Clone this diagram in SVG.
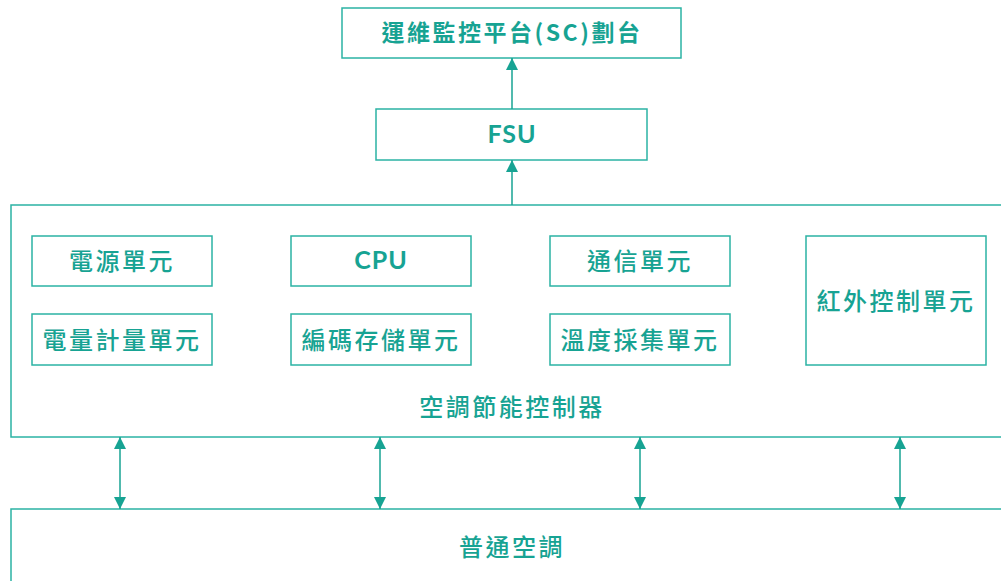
<svg xmlns="http://www.w3.org/2000/svg" width="1001" height="581" viewBox="0 0 1001 581">
<style>
.box{fill:#fff;stroke:#2bb3a4;stroke-width:1.5}
.t{font-family:"Noto Sans CJK TC","Noto Sans",sans-serif;font-size:24px;fill:#17a393;text-anchor:middle;dominant-baseline:central;letter-spacing:2.5px;font-weight:500}
.b{font-weight:700}
.lat{letter-spacing:1px;font-family:"Lato","Noto Sans",sans-serif;font-size:25px}
.ln{stroke:#17a393;stroke-width:1.5;fill:none}
</style>
<defs>
<marker id="ah" viewBox="0 0 10 10" refX="10" refY="5" markerWidth="12" markerHeight="12" markerUnits="userSpaceOnUse" orient="auto-start-reverse">
<path d="M0,0 L10,5 L0,10 z" fill="#17a393"/>
</marker>
</defs>
<rect width="1001" height="581" fill="#fff"/>
<g id="sc"><rect class="box" x="342" y="8" width="339" height="50"/><text class="t b" x="512" y="31" style="font-size:23px;letter-spacing:2.5px">運維監控平台(SC)劃台</text></g>
<g id="fsu"><rect class="box" x="376" y="109" width="271" height="51"/><text class="t b lat" x="512" y="133">FSU</text></g>
<g id="ctrl"><rect class="box" x="11" y="205" width="1000" height="232"/><text class="t" x="512" y="405">空調節能控制器</text></g>
<g id="power"><rect class="box" x="32" y="236" width="180" height="50"/><text class="t" x="122" y="259">電源單元</text></g>
<g id="meter"><rect class="box" x="32" y="314" width="180" height="51"/><text class="t" x="122" y="338">電量計量單元</text></g>
<g id="cpu"><rect class="box" x="291" y="236" width="180" height="50"/><text class="t b lat" x="381" y="259">CPU</text></g>
<g id="store"><rect class="box" x="291" y="314" width="180" height="51"/><text class="t" x="381" y="338">編碼存儲單元</text></g>
<g id="comm"><rect class="box" x="550" y="236" width="180" height="50"/><text class="t" x="640" y="259">通信單元</text></g>
<g id="temp"><rect class="box" x="550" y="314" width="180" height="51"/><text class="t" x="640" y="338">溫度採集單元</text></g>
<g id="ir"><rect class="box" x="806" y="236" width="180" height="129"/><text class="t" x="896" y="299">紅外控制單元</text></g>
<g id="ac"><rect class="box" x="11" y="509" width="1000" height="80"/><text class="t" x="512" y="545">普通空調</text></g>
<g id="connectors">
<line class="ln" x1="512" y1="109" x2="512" y2="58" marker-end="url(#ah)"/>
<line class="ln" x1="512" y1="205" x2="512" y2="160" marker-end="url(#ah)"/>
<line class="ln" x1="120" y1="437" x2="120" y2="509" marker-start="url(#ah)" marker-end="url(#ah)"/>
<line class="ln" x1="380" y1="437" x2="380" y2="509" marker-start="url(#ah)" marker-end="url(#ah)"/>
<line class="ln" x1="640" y1="437" x2="640" y2="509" marker-start="url(#ah)" marker-end="url(#ah)"/>
<line class="ln" x1="900" y1="437" x2="900" y2="509" marker-start="url(#ah)" marker-end="url(#ah)"/>
</g>
</svg>
